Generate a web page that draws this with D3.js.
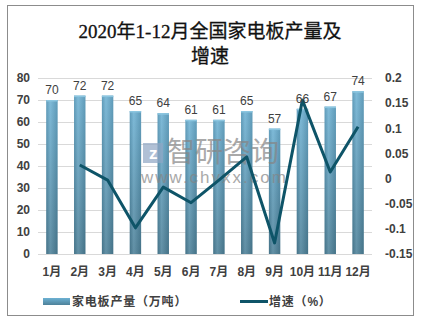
<!DOCTYPE html>
<html><head><meta charset="utf-8">
<script src="https://cdn.jsdelivr.net/npm/d3@7"></script>
<style>body{margin:0;background:#fff}svg{display:block}</style>
</head><body><svg id="c" width="421" height="321"></svg>
<script>
const months = ["1月","2月","3月","4月","5月","6月","7月","8月","9月","10月","11月","12月"];
const output = [70,72,72,65,64,61,61,65,57,66,67,74];
const growth = [null,0.027,-0.003,-0.098,-0.017,-0.048,-0.003,0.043,-0.128,0.156,0.013,0.103];
const leftTicks = [0,10,20,30,40,50,60,70,80];
const rightTicks = [-0.15,-0.1,-0.05,0,0.05,0.1,0.15,0.2];
const rightTickLabels = ["-0.15","-0.1","-0.05","0","0.05","0.1","0.15","0.2"];
const titleLines = ["2020年1-12月全国家电板产量及","增速"];
const legendNames = ["家电板产量（万吨）","增速（%）"];

const svg = d3.select("#c");
const m={l:38,r:372,t:78,b:254};
const x = d3.scaleBand().domain(months).range([m.l,m.r]).paddingInner(0.59).paddingOuter(0.295);
const y = d3.scaleLinear().domain([0,80]).range([m.b,m.t]);
const y2 = d3.scaleLinear().domain([-0.15,0.2]).range([m.b,m.t]);

const defs = svg.append("defs");
const gv = defs.append("linearGradient").attr("id","gv").attr("x1",0).attr("y1",0).attr("x2",0).attr("y2",1);
gv.append("stop").attr("offset","0%").attr("stop-color","#6db1d3");
gv.append("stop").attr("offset","100%").attr("stop-color","#4d8199");
const gh = defs.append("linearGradient").attr("id","gh").attr("x1",0).attr("y1",0).attr("x2",1).attr("y2",0);
gh.append("stop").attr("offset","0%").attr("stop-color","#000").attr("stop-opacity",0.12);
gh.append("stop").attr("offset","35%").attr("stop-color","#fff").attr("stop-opacity",0.12);
gh.append("stop").attr("offset","100%").attr("stop-color","#000").attr("stop-opacity",0.12);

svg.append("rect").attr("x",7.5).attr("y",5.5).attr("width",406).attr("height",310)
  .attr("fill","#fff").attr("stroke","#8c8c8c").attr("stroke-width",1);

const title = svg.append("text").attr("text-anchor","middle")
  .attr("font-family","'Liberation Serif','Noto Sans CJK SC',serif").attr("font-size",19)
  .attr("fill","#111").attr("stroke","#111").attr("stroke-width",0.3);
titleLines.forEach((t,i)=>title.append("tspan").attr("x",210).attr("y",38+i*25).text(t));

// grid
svg.append("g").selectAll("line").data(leftTicks).join("line")
  .attr("x1",m.l).attr("x2",m.r).attr("y1",d=>Math.round(y(d))+0.5).attr("y2",d=>Math.round(y(d))+0.5)
  .attr("stroke","#d9d9d9").attr("stroke-width",1);

const axisFont = "'Liberation Sans','Noto Sans CJK SC',sans-serif";
const la = svg.append("g").attr("transform",`translate(${m.l-8},0)`)
  .call(d3.axisLeft(y).tickValues(leftTicks).tickSize(0).tickPadding(0));
la.select(".domain").remove();
la.selectAll("text").attr("font-family",axisFont).attr("font-size",12).attr("font-weight","bold").attr("fill","#404040");

const ra = svg.append("g").attr("transform",`translate(${m.r+13},0)`)
  .call(d3.axisRight(y2).tickValues(rightTicks).tickSize(0).tickPadding(0).tickFormat((d,i)=>rightTickLabels[i]));
ra.select(".domain").remove();
ra.selectAll("text").attr("font-family",axisFont).attr("font-size",12).attr("font-weight","bold").attr("fill","#404040");

// bars
const bars = svg.append("g");
bars.selectAll("rect.b").data(output).join("rect").attr("class","b")
  .attr("x",(d,i)=>x(months[i])).attr("width",x.bandwidth())
  .attr("y",d=>y(d)).attr("height",d=>y(0)-y(d)).attr("fill","url(#gv)");
bars.selectAll("rect.h").data(output).join("rect").attr("class","h")
  .attr("x",(d,i)=>x(months[i])).attr("width",x.bandwidth())
  .attr("y",d=>y(d)).attr("height",d=>y(0)-y(d)).attr("fill","url(#gh)");
bars.selectAll("rect.t").data(output).join("rect").attr("class","t")
  .attr("x",(d,i)=>x(months[i])).attr("width",x.bandwidth())
  .attr("y",d=>y(d)).attr("height",1.5).attr("fill","#8cc6e0");

// watermark
const wm = svg.append("g").attr("opacity",0.7);
wm.append("rect").attr("x",143).attr("y",143).attr("width",20).attr("height",20).attr("fill","#8fa6c4");
wm.append("text").attr("x",149).attr("y",159).attr("font-family","'Liberation Sans',sans-serif").attr("font-size",17).attr("font-weight","bold").attr("fill","#fff").text("z");
wm.append("text").attr("x",167).attr("y",162).attr("font-family","'Noto Sans CJK SC',sans-serif").attr("font-size",28).attr("fill","#858585").text("智研咨询");
wm.append("text").attr("x",141).attr("y",183).attr("font-family","'Liberation Sans',sans-serif").attr("font-size",17).attr("letter-spacing",2).attr("fill","#858585").text("www.chyxx.com");

// line
const lineGen = d3.line().defined(d=>d!=null)
  .x((d,i)=>x(months[i])+x.bandwidth()/2).y(d=>y2(d));
svg.append("path").datum(growth).attr("d",lineGen).attr("fill","none")
  .attr("stroke","#0e5468").attr("stroke-width",3).attr("stroke-linejoin","round");

// value labels
svg.append("g").selectAll("text").data(output).join("text")
  .attr("x",(d,i)=>x(months[i])+x.bandwidth()/2).attr("y",d=>y(d)-6)
  .attr("text-anchor","middle").attr("font-family",axisFont).attr("font-size",12).attr("fill","#404040")
  .text(d=>d);

// x labels
const xa = svg.append("g").attr("transform",`translate(0,${m.b+13})`)
  .call(d3.axisBottom(x).tickSize(0).tickPadding(0));
xa.select(".domain").remove();
xa.selectAll("text").attr("font-family",axisFont).attr("font-size",12).attr("font-weight","bold").attr("fill","#404040");

// legend
const lg = svg.append("g").attr("font-family",axisFont).attr("font-size",12).attr("font-weight","bold").attr("fill","#404040");
lg.append("rect").attr("x",43).attr("y",298).attr("width",27).attr("height",7).attr("fill","url(#gv)");
lg.append("text").attr("x",72).attr("y",306).attr("letter-spacing",0.8).text(legendNames[0]);
lg.append("line").attr("x1",240).attr("x2",268).attr("y1",301.5).attr("y2",301.5).attr("stroke","#0e5468").attr("stroke-width",3);
lg.append("text").attr("x",269).attr("y",306).attr("letter-spacing",0.8).text(legendNames[1]);
</script></body></html>
